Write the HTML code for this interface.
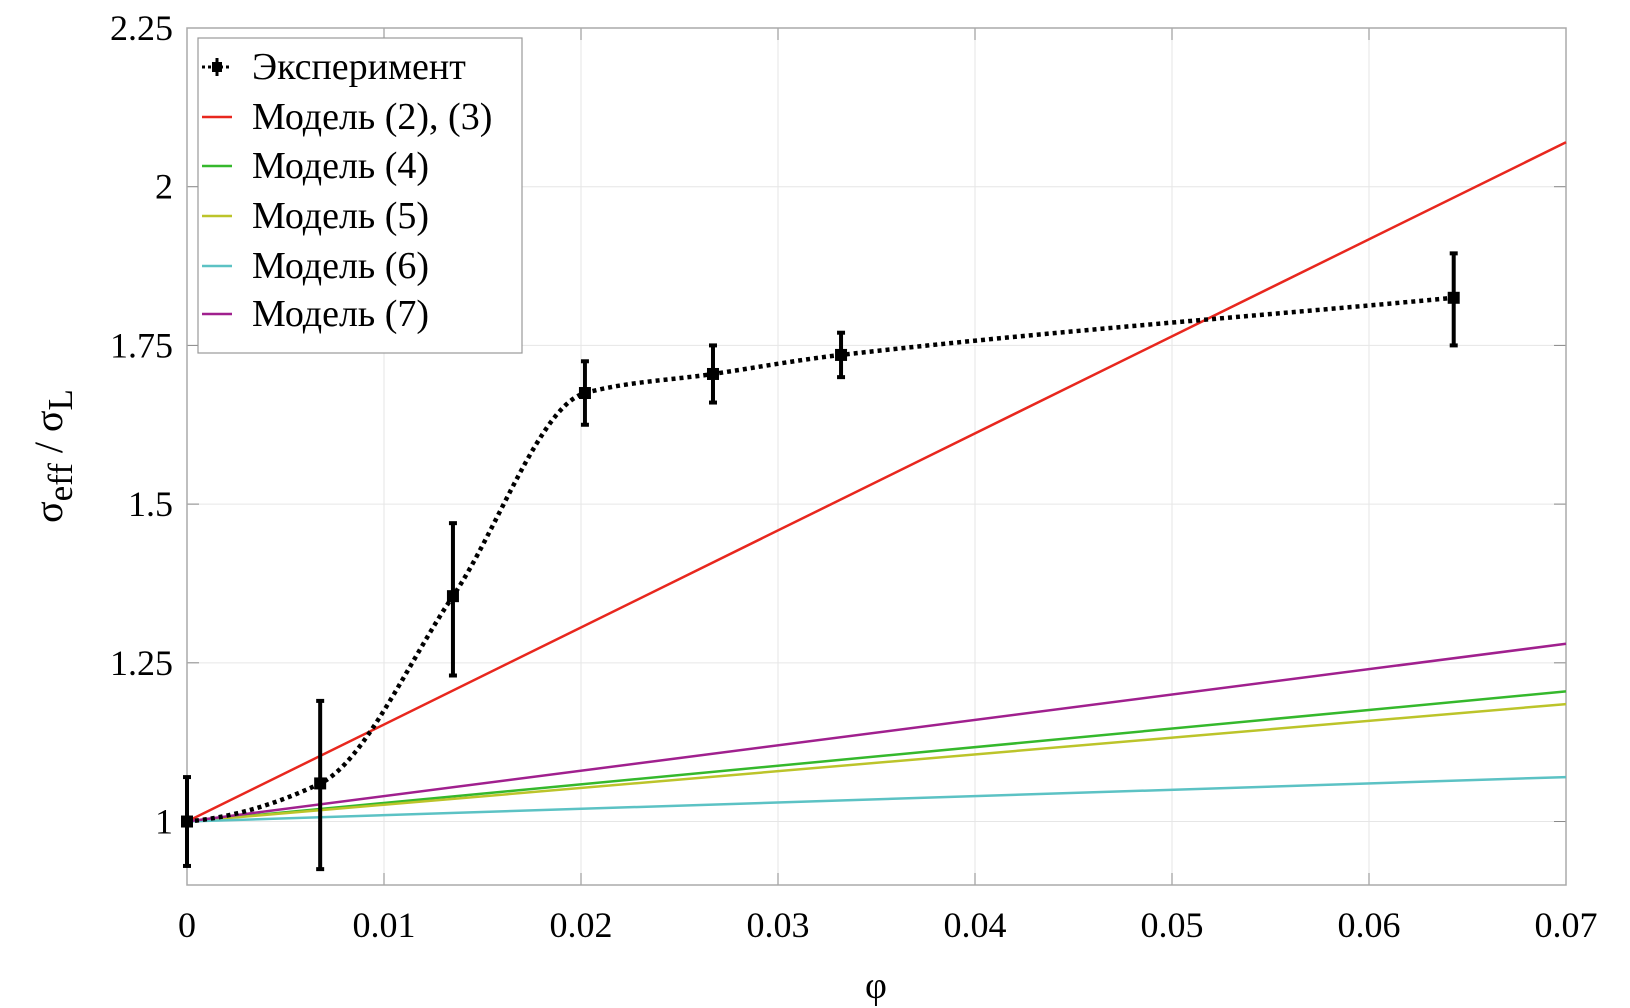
<!DOCTYPE html>
<html><head><meta charset="utf-8"><style>
body{margin:0;background:#fff}
svg{display:block;font-family:"Liberation Serif",serif}
</style></head><body>
<svg id="chart" width="1630" height="1008" viewBox="0 0 1630 1008"></svg>
<script>
const xTicks=[0,0.01,0.02,0.03,0.04,0.05,0.06,0.07];
const xTickLabels=["0","0.01","0.02","0.03","0.04","0.05","0.06","0.07"];
const yTicks=[1,1.25,1.5,1.75,2,2.25];
const yTickLabels=["1","1.25","1.5","1.75","2","2.25"];
const expX=[0,0.00676,0.0135,0.0202,0.0267,0.0332,0.0643];
const expY=[1,1.06,1.355,1.675,1.705,1.735,1.825];
const expLo=[0.93,0.925,1.23,1.625,1.66,1.70,1.75];
const expHi=[1.07,1.19,1.47,1.725,1.75,1.77,1.895];
const modelNames=["Модель (2), (3)","Модель (4)","Модель (5)","Модель (6)","Модель (7)"];
const modelEnd=[2.07,1.205,1.185,1.07,1.28];
const modelColors=["#e8271e","#35b82c","#bcc42a","#5cc2c4","#a0208e"];
const L=187,R=1566,T=28,B=885,X0=0,X1=0.07,Y0=0.9,Y1=2.25;
const sx=v=>L+(v-X0)/(X1-X0)*(R-L);
const sy=v=>B-(v-Y0)/(Y1-Y0)*(B-T);
const svg=document.getElementById('chart');
const NS='http://www.w3.org/2000/svg';
function mk(tag,attrs,parent){const e=document.createElementNS(NS,tag);for(const k in attrs)e.setAttribute(k,attrs[k]);(parent||svg).appendChild(e);return e;}
xTicks.forEach((t,i)=>{
 const g=mk('line',{x1:sx(t),x2:sx(t),y1:T,y2:B,stroke:'#e6e6e6','stroke-width':1});
 
 
 mk('line',{x1:sx(t),x2:sx(t),y1:B,y2:B-12,stroke:'#888'});
 mk('line',{x1:sx(t),x2:sx(t),y1:T,y2:T+12,stroke:'#888'});
 const tx=mk('text',{x:sx(t),y:B+52,'font-size':36,'text-anchor':'middle'});tx.textContent=xTickLabels[i];
 
 
});
yTicks.forEach((t,i)=>{
 const g=mk('line',{x1:L,x2:R,y1:sy(t),y2:sy(t),stroke:'#e6e6e6','stroke-width':1});
 
 
 mk('line',{x1:L,x2:L+12,y1:sy(t),y2:sy(t),stroke:'#888'});
 mk('line',{x1:R,x2:R-12,y1:sy(t),y2:sy(t),stroke:'#888'});
 const tx=mk('text',{x:L-14,y:sy(t)+12,'font-size':36,'text-anchor':'end'});tx.textContent=yTickLabels[i];
 
 
});
const frame=mk('rect',{x:L,y:T,width:R-L,height:B-T,fill:'none',stroke:'#aaa','stroke-width':1.5});


modelEnd.forEach((e,i)=>{
 const l=mk('line',{x1:sx(0),y1:sy(1),x2:sx(0.07),y2:sy(e),stroke:modelColors[i],'stroke-width':2.5});
 
 
});
(function(){
 const n=expX.length,px=expX.map(sx),py=expY.map(sy);
 const d=[],m=[];for(let i=0;i<n-1;i++)d.push((py[i+1]-py[i])/(px[i+1]-px[i]));
 m[0]=d[0]*0.3;m[n-1]=d[n-2];
 for(let i=1;i<n-1;i++){m[i]=(d[i-1]*d[i]<=0)?0:2/(1/d[i-1]+1/d[i]);}
 let p='M'+px[0]+','+py[0];
 for(let i=0;i<n-1;i++){const h=px[i+1]-px[i];p+=' C'+(px[i]+h/3)+','+(py[i]+m[i]*h/3)+' '+(px[i+1]-h/3)+','+(py[i+1]-m[i+1]*h/3)+' '+px[i+1]+','+py[i+1];}
 const c=mk('path',{d:p,fill:'none',stroke:'#000','stroke-width':4.5,'stroke-dasharray':'4 4'});
 
 
 for(let i=0;i<n;i++){
  const g=mk('g',{});
  
  
  mk('line',{x1:px[i],x2:px[i],y1:sy(expLo[i]),y2:sy(expHi[i]),stroke:'#000','stroke-width':4},g);
  mk('line',{x1:px[i]-4,x2:px[i]+4,y1:sy(expLo[i]),y2:sy(expLo[i]),stroke:'#000','stroke-width':4},g);
  mk('line',{x1:px[i]-4,x2:px[i]+4,y1:sy(expHi[i]),y2:sy(expHi[i]),stroke:'#000','stroke-width':4},g);
  mk('rect',{x:px[i]-6,y:py[i]-6,width:12,height:12,fill:'#000'},g);
 }
})();
const lg=mk('g',{});


mk('rect',{x:198,y:38,width:324,height:315,fill:'#fff',stroke:'#999','stroke-width':1.2},lg);
const ly=[67,117,166,216,266,314];
const le=mk('g',{},lg);


mk('line',{x1:202,x2:232,y1:ly[0],y2:ly[0],stroke:'#000','stroke-width':3,'stroke-dasharray':'3 3'},le);
mk('line',{x1:217,x2:217,y1:ly[0]-9,y2:ly[0]+9,stroke:'#000','stroke-width':3},le);
mk('rect',{x:212,y:ly[0]-5,width:10,height:10,fill:'#000'},le);
let t=mk('text',{x:252,y:ly[0]+12,'font-size':38},le);t.textContent='Эксперимент';
modelNames.forEach((nm,i)=>{
 const g=mk('g',{},lg);
 
 
 mk('line',{x1:202,x2:232,y1:ly[i+1],y2:ly[i+1],stroke:modelColors[i],'stroke-width':2.5},g);
 const tx=mk('text',{x:252,y:ly[i+1]+12,'font-size':38},g);tx.textContent=nm;
});
const xt=mk('text',{x:876,y:998,'font-size':38,'text-anchor':'middle'});xt.textContent='φ';


const yt=mk('text',{transform:'translate(62,456) rotate(-90)','font-size':40,'text-anchor':'middle'});
yt.innerHTML='σ<tspan dy="10" font-size="35">eff</tspan><tspan dy="-10"> / σ</tspan><tspan dy="10" font-size="35">L</tspan>';


</script>
</body></html>
